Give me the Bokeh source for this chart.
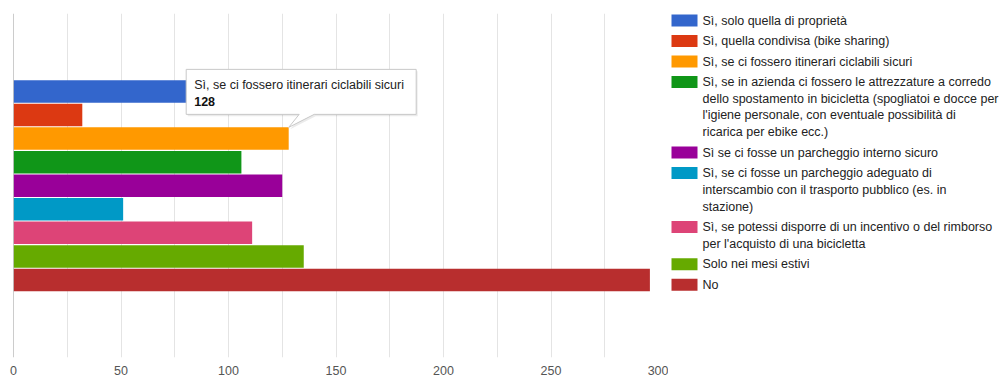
from bokeh.plotting import figure
from bokeh.layouts import row
from bokeh.models import Range1d, FixedTicker, Span, ColumnDataSource
from bokeh.core.properties import value
from bokeh.embed import file_html
from bokeh.resources import INLINE

# ---------------- data ----------------
categories = [
    "Sì, solo quella di proprietà",
    "Sì, quella condivisa (bike sharing)",
    "Sì, se ci fossero itinerari ciclabili sicuri",
    "Sì, se in azienda ci fossero le attrezzature a corredo dello spostamento in bicicletta (spogliatoi e docce per l'igiene personale, con eventuale possibilità di ricarica per ebike ecc.)",
    "Sì se ci fosse un parcheggio interno sicuro",
    "Sì, se ci fosse un parcheggio adeguato di interscambio con il trasporto pubblico (es. in stazione)",
    "Sì, se potessi disporre di un incentivo o del rimborso per l'acquisto di una bicicletta",
    "Solo nei mesi estivi",
    "No",
]
legend_lines = [
    ["Sì, solo quella di proprietà"],
    ["Sì, quella condivisa (bike sharing)"],
    ["Sì, se ci fossero itinerari ciclabili sicuri"],
    ["Sì, se in azienda ci fossero le attrezzature a corredo",
     "dello spostamento in bicicletta (spogliatoi e docce per",
     "l'igiene personale, con eventuale possibilità di",
     "ricarica per ebike ecc.)"],
    ["Sì se ci fosse un parcheggio interno sicuro"],
    ["Sì, se ci fosse un parcheggio adeguato di",
     "interscambio con il trasporto pubblico (es. in",
     "stazione)"],
    ["Sì, se potessi disporre di un incentivo o del rimborso",
     "per l'acquisto di una bicicletta"],
    ["Solo nei mesi estivi"],
    ["No"],
]
counts = [95, 32, 128, 106, 125, 51, 111, 135, 296]
colors = ["#3366cc", "#dc3912", "#ff9900", "#109618", "#990099",
          "#0099c6", "#dd4477", "#66aa00", "#b82e2e"]
tick_values = [0, 50, 100, 150, 200, 250, 300]
grid_values = [0, 25, 50, 75, 100, 125, 150, 175, 200, 225, 250, 275, 300]
tooltip_index = 2

FONT = "Liberation Sans"
FS = "12.5px"

# ---------------- main chart ----------------
FRAME_W, FRAME_H = 645, 344
XMAX = 300
Y_TOP, Y_BOT = -3.31, 11.29
px_x = XMAX / FRAME_W                 # data units per pixel (x)
px_y = (Y_BOT - Y_TOP) / FRAME_H      # data units per pixel (y, downwards)

p = figure(frame_width=FRAME_W, frame_height=FRAME_H, title=None,
           x_range=Range1d(0, XMAX), y_range=Range1d(Y_BOT, Y_TOP),
           output_backend="svg", toolbar_location=None,
           min_border_left=13, min_border_right=10, min_border_top=13,
           min_border_bottom=0)
p.outline_line_color = None
p.yaxis.visible = False
p.ygrid.visible = False
p.xgrid.ticker = FixedTicker(ticks=grid_values)
p.xgrid.grid_line_color = "#e4e4e4"
p.xaxis.ticker = FixedTicker(ticks=tick_values)
p.xaxis.axis_line_color = None
p.xaxis.major_tick_line_color = None
p.xaxis.minor_tick_line_color = None
p.xaxis.major_label_standoff = 2
p.xaxis.major_label_text_font = FONT
p.xaxis.major_label_text_font_size = "12.5px"
p.xaxis.major_label_text_color = "#555555"

idx = list(range(len(counts)))
src = ColumnDataSource(dict(y=idx, right=counts, color=colors, cat=categories))
p.hbar(y="y", left=0, right="right", height=0.955, fill_color="color",
       line_color=None, source=src)

p.add_layout(Span(location=0, dimension="height", line_color="#9a9a9a",
                  line_width=1))

# tooltip anchored on the end of the highlighted bar
tx = counts[tooltip_index]
ty = tooltip_index - 0.955 / 2
box = [(-102.5, -58), (127.5, -58), (127.5, -13), (25.5, -13), (0, 0),
       (10.5, -13), (-102.5, -13)]
sxs = [tx + (dx + 1.5) * px_x for dx, dy in box]
sys_ = [ty + (dy + 2) * px_y for dx, dy in box]
p.patch(sxs, sys_, fill_color="#000000", fill_alpha=0.08, line_color=None)
bxs = [tx + dx * px_x for dx, dy in box]
bys = [ty + dy * px_y for dx, dy in box]
p.patch(bxs, bys, fill_color="white", line_color="#c8c8c8", line_width=1)
p.text(x=[tx], y=[ty], text=[categories[tooltip_index]], x_offset=-94.5,
       y_offset=-42, text_baseline="middle", text_align="left",
       text_font=value(FONT), text_font_size=FS, text_color="#222222")
p.text(x=[tx], y=[ty], text=[str(counts[tooltip_index])], x_offset=-94.5,
       y_offset=-25.5, text_baseline="middle", text_align="left",
       text_font=value(FONT), text_font_size=FS, text_color="#111111",
       text_font_style="bold")

# ---------------- legend panel ----------------
LW, LH = 335, FRAME_H
lg = figure(frame_width=LW, frame_height=LH, title=None,
            x_range=Range1d(0, LW), y_range=Range1d(LH, 0),
            output_backend="svg", toolbar_location=None,
            x_axis_type=None, y_axis_type=None,
            min_border_left=0, min_border_right=0,
            min_border_top=0, min_border_bottom=0)
lg.outline_line_color = None
lg.grid.visible = False

START, PITCH, LINE_H = 7.0, 20.5, 16.7
sw_y, tx_y, tx_t = [], [], []
y = START
for lines in legend_lines:
    sw_y.append(y)
    for k, t in enumerate(lines):
        tx_y.append(y + k * LINE_H)
        tx_t.append(t)
    y = y + (len(lines) - 1) * LINE_H + PITCH
lg.rect(x=[16] * len(sw_y), y=sw_y, width=26, height=12, fill_color=colors,
        line_color=None)
lg.text(x=[34] * len(tx_t), y=tx_y, text=tx_t, text_baseline="middle",
        text_align="left", text_font=value(FONT), text_font_size=FS,
        text_color="#222222")

layout = row(p, lg, spacing=0)
open("out.html", "w").write(file_html(layout, INLINE))
